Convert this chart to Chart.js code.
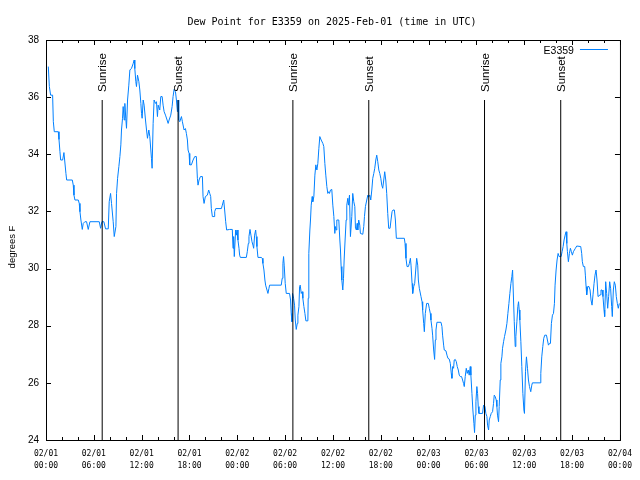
<!DOCTYPE html>
<html>
<head>
<meta charset="utf-8">
<title>Dew Point for E3359</title>
<script src="https://cdn.jsdelivr.net/npm/chart.js@4.4.1/dist/chart.umd.min.js"></script>
<style>
  html, body { margin: 0; padding: 0; background: #fff; }
</style>
</head>
<body>
<canvas id="dewpoint-chart" width="640" height="480"></canvas>
<script>
const stationName = "E3359";
const chartTitle = "Dew Point for E3359 on 2025-Feb-01 (time in UTC)";
const yAxisTitle = "degrees F";

// tick labels, one per 6 hours
const tickDates = ["02/01", "02/01", "02/01", "02/01", "02/02", "02/02", "02/02", "02/02",
                   "02/03", "02/03", "02/03", "02/03", "02/04"];
const tickTimes = ["00:00", "06:00", "12:00", "18:00", "00:00", "06:00", "12:00", "18:00",
                   "00:00", "06:00", "12:00", "18:00", "00:00"];

// hours after 02/01 00:00 UTC
const sunHours = [7.05, 16.57, 30.97, 40.49, 55.01, 64.57];
const sunLabels = ["Sunrise", "Sunset", "Sunrise", "Sunset", "Sunrise", "Sunset"];

const obsHours = [
    0.29, 0.42, 0.58, 0.83, 0.92, 1.04, 1.54, 1.63, 1.75, 1.84,
    2.09, 2.25, 2.34, 2.50, 2.59, 3.30, 3.42, 3.51, 3.63, 4.05,
    4.17, 4.26, 4.38, 4.55, 4.67, 4.88, 5.09, 5.30, 5.51, 6.68,
    6.85, 7.01, 7.26, 7.47, 7.81, 7.93, 8.10, 8.22, 8.43, 8.56,
    8.77, 8.85, 8.98, 9.14, 9.27, 9.39, 9.47, 9.60, 9.68, 9.81,
    9.89, 10.01, 10.10, 10.23, 10.39, 10.52, 10.73, 10.94, 11.06,
    11.14, 11.27, 11.35, 11.48, 11.65, 11.77, 11.90, 11.98, 12.06, 12.19,
    12.31, 12.48, 12.61, 12.73, 12.90, 13.02, 13.15, 13.23, 13.31, 13.44,
    13.56, 13.73, 13.86, 13.98, 14.07, 14.27, 14.40, 14.57, 14.69, 14.82,
    14.99, 15.19, 15.32, 15.44, 15.65, 15.82, 15.94, 16.07, 16.24, 16.36,
    16.49, 16.57, 16.65, 16.78, 16.99, 17.11, 17.32, 17.49, 17.61, 17.74,
    17.82, 17.95, 18.03, 18.24, 18.45, 18.66, 18.86, 18.99, 19.07, 19.20,
    19.37, 19.62, 19.70, 19.83, 19.99, 20.24, 20.41, 20.54, 20.66, 20.74,
    20.87, 21.08, 21.16, 21.29, 22.00, 22.12, 22.29, 22.41, 22.54, 22.66,
    23.04, 23.37, 23.46, 23.54, 23.62, 23.79, 23.88, 23.96, 24.08, 24.21,
    24.29, 24.38, 25.13, 25.25, 25.38, 25.46, 25.59, 25.71, 25.84, 25.96,
    26.05, 26.17, 26.30, 26.38, 26.46, 26.59, 27.00, 27.13, 27.21, 27.34,
    27.46, 27.55, 27.72, 27.84, 27.97, 28.05, 29.51, 29.63, 29.72, 29.80,
    29.88, 30.01, 30.14, 30.55, 30.68, 30.76, 30.85, 30.93, 31.06, 31.18,
    31.27, 31.39, 31.52, 31.60, 31.73, 31.81, 31.89, 32.02, 32.14, 32.22,
    32.35, 32.48, 32.60, 32.85, 32.89, 32.97, 33.10, 33.18, 33.27, 33.39,
    33.47, 33.60, 33.73, 33.85, 33.98, 34.10, 34.23, 34.35, 34.52, 34.73,
    34.85, 34.98, 35.10, 35.23, 35.35, 35.48, 35.56, 35.69, 35.85, 35.98,
    36.11, 36.23, 36.31, 36.40, 36.48, 36.73,
    36.86, 36.94, 37.02, 37.11, 37.23, 37.32, 37.40, 37.52, 37.65, 37.73,
    37.86, 37.94, 38.07, 38.19, 38.36, 38.48, 38.61, 38.74, 38.82, 38.94,
    39.03, 39.11, 39.23, 39.36, 39.44, 39.74, 39.86, 39.95, 40.07, 40.24,
    40.37, 40.49, 40.62, 40.74, 40.87, 40.99, 41.12, 41.24, 41.37, 41.49,
    41.62, 41.75, 41.87, 42.00, 42.12, 42.24, 42.37, 42.49, 42.62, 42.74,
    42.87, 42.99, 43.16, 43.28, 43.41, 43.53, 43.70, 43.83, 43.95, 44.95,
    45.04, 45.16, 45.29, 45.46, 45.58, 45.71, 45.79, 45.92, 46.00, 46.13,
    46.25, 46.38, 46.50, 46.63, 46.71,
    46.83, 47.04, 47.17, 47.25, 47.38, 47.46, 47.58, 47.75, 47.96, 48.08,
    48.21, 48.29, 48.42, 48.50, 48.63, 48.75, 48.84, 48.92, 49.04, 49.55,
    49.67, 49.75, 49.88, 49.96, 50.17, 50.30, 50.42, 50.59, 50.72, 50.84,
    50.92, 51.01, 51.13, 51.21, 51.34, 51.47, 51.59, 51.72, 51.84, 51.97,
    52.13, 52.26, 52.38, 52.47, 52.59, 52.72, 52.84, 52.97, 53.09, 53.22,
    53.30, 53.43, 53.55, 53.68, 53.76, 53.85, 53.93, 54.05, 54.14, 54.22,
    54.31, 54.76, 54.89, 55.06, 55.18, 55.31, 55.39, 55.52, 55.60, 55.73,
    55.85, 56.02, 56.14, 56.23, 56.35, 56.48, 56.56, 56.64, 56.77, 56.85,
    56.98, 57.06, 57.19, 57.27, 57.40, 57.52, 57.69, 57.82, 57.94, 58.07,
    58.19, 58.32, 58.44, 58.53, 58.61, 58.74, 58.86, 58.94, 59.07, 59.19,
    59.28, 59.36, 59.44, 59.57, 59.69, 59.82, 59.95,
    60.02, 60.15, 60.27, 60.40, 60.52, 60.65, 60.81, 60.94, 61.02, 61.98,
    62.07, 62.19, 62.32, 62.44, 62.57, 62.78, 62.90, 63.03, 63.16, 63.28,
    63.40, 63.53, 63.66, 63.78, 63.86, 63.99, 64.11, 64.24, 64.37, 64.62,
    64.74, 64.87, 64.99, 65.12, 65.24, 65.33, 65.41, 65.53, 65.66, 65.78,
    65.91, 66.03, 66.16, 66.28, 66.41, 66.58, 67.08, 67.20, 67.28, 67.41,
    67.58, 67.66, 67.75, 67.83, 67.96, 68.12, 68.25, 68.37, 68.50, 68.62,
    68.75, 68.87, 69.00, 69.12, 69.25, 69.37, 69.50, 69.62, 69.75, 69.87,
    70.00, 70.08, 70.21, 70.33, 70.46, 70.58, 70.71, 70.83, 70.96, 71.04,
    71.17, 71.29, 71.42, 71.54, 71.67, 71.79, 71.92
];

const dewPointF = [
    37.07, 36.37, 36.07, 36.07, 35.14, 34.79, 34.79, 34.52, 34.09, 33.80,
    33.80, 34.06, 33.80, 33.33, 33.10, 33.10, 32.92, 32.57, 32.40, 32.40,
    32.28, 31.99, 31.70, 31.37, 31.58, 31.64, 31.64, 31.37, 31.64, 31.64,
    31.41, 31.64, 31.64, 31.39, 31.39, 32.34, 32.63, 32.28, 31.64, 31.12,
    31.47, 32.63, 33.16, 33.57, 33.92, 34.33, 34.85, 35.26, 35.67, 35.20,
    35.78, 35.26, 34.91, 35.90, 36.42, 36.95, 37.01, 37.18, 37.30,
    37.00, 36.54, 36.37, 36.77, 36.54, 36.25, 35.78, 35.43, 35.26, 35.90,
    35.72, 35.20, 34.85, 34.56, 34.85, 34.62, 34.15, 33.86, 33.51, 35.08,
    35.90, 35.78, 35.84, 35.32, 35.72, 35.55, 36.02, 36.02, 35.72, 35.49,
    35.37, 35.20, 35.08, 35.20, 35.37, 35.67, 36.02, 36.27, 36.19, 35.90,
    35.49, 35.90, 35.20, 35.14, 35.32, 35.14, 34.85, 34.90, 34.73, 34.50,
    34.15, 34.03, 33.63, 33.63, 33.80, 33.92, 33.92, 33.16, 32.92, 33.10,
    33.22, 33.22, 32.52, 32.28, 32.52, 32.57, 32.75, 32.63, 32.52, 32.10,
    31.82, 31.82, 31.99, 32.10, 32.10, 32.22, 32.40, 32.05, 31.64, 31.35,
    31.37, 31.37, 30.71, 31.12, 30.42, 31.35, 31.17, 31.35, 31.00, 30.71,
    30.47, 30.39, 30.39, 30.59, 30.88, 31.12, 31.37, 31.17, 30.94, 30.82,
    30.71, 31.17, 31.35, 31.12, 30.77, 30.39, 30.39, 30.36, 30.18, 29.95,
    29.60, 29.42, 29.25, 29.13, 29.31, 29.42, 29.42, 29.66, 30.18, 30.42,
    30.12, 29.48, 29.13, 29.13, 28.90, 28.43, 28.14, 29.13, 28.96, 28.72,
    28.20, 27.87, 28.08, 28.37, 28.67, 29.37, 29.42, 29.13, 29.19, 28.96,
    28.67, 28.43, 28.17, 28.17, 28.96, 30.53, 31.35, 31.70, 32.22, 32.52,
    32.34, 32.52, 33.27, 33.63, 33.45, 33.68, 34.21, 34.62, 34.50, 34.38,
    34.27, 33.68, 33.27, 32.87, 32.63, 32.69, 32.63, 32.75, 32.77, 32.22,
    31.82, 31.23, 31.47, 31.35, 31.70, 31.70,
    31.00, 30.65, 30.07, 29.60, 29.25, 29.66, 30.30, 31.00, 31.70, 32.22,
    32.46, 32.22, 32.57, 31.12, 31.82, 32.63, 32.34, 32.17, 31.41, 31.35,
    31.58, 31.35, 31.70, 31.52, 31.23, 31.20, 31.47, 31.82, 32.17, 32.40,
    32.57, 32.51, 32.57, 32.40, 32.75, 33.16, 33.33, 33.51, 33.80, 33.97,
    33.74, 33.45, 33.33, 33.16, 32.92, 32.81, 33.10, 33.39, 33.10, 32.63,
    31.93, 31.41, 31.41, 31.70, 31.99, 32.05, 32.05, 31.70, 31.06, 31.06,
    30.88, 30.36, 30.07, 30.07, 30.18, 30.36, 30.12, 29.48, 29.13, 29.37,
    29.48, 29.95, 30.36, 30.12, 29.60,
    29.31, 29.02, 28.84, 28.55, 28.08, 27.79, 28.43, 28.78, 28.78, 28.61,
    28.43, 28.20, 27.91, 27.67, 27.15, 26.82, 27.50, 27.85, 28.12, 28.12,
    27.97, 27.67, 27.32, 27.15, 27.12, 26.97, 26.86, 26.83, 26.68, 26.33,
    26.16, 26.57, 26.51, 26.80, 26.82, 26.74, 26.57, 26.45, 26.27, 26.22,
    26.22, 26.10, 25.98, 25.87, 26.22, 26.51, 26.33, 26.45, 26.27, 26.57,
    26.27, 25.63, 25.05, 24.58, 24.26, 24.87, 25.34, 25.87, 25.63, 25.17,
    24.93, 24.93, 25.22, 25.17, 24.93, 24.82, 24.52, 24.35, 24.70, 24.82,
    24.93, 24.99, 25.28, 25.57, 25.52, 25.40, 25.17, 24.87, 24.64, 25.17,
    26.10, 26.68, 26.91, 27.21, 27.44, 27.62, 27.85, 28.08, 28.43, 28.78,
    29.13, 29.48, 29.72, 29.95, 29.25, 28.14, 27.27, 27.62, 28.14, 28.67,
    28.84, 28.55, 28.20, 27.44, 26.57, 25.63, 25.05,
    24.93, 26.39, 26.91, 26.51, 26.10, 25.87, 25.69, 25.92, 26.00, 26.00,
    26.33, 26.91, 27.27, 27.56, 27.67, 27.67, 27.50, 27.32, 27.38, 27.38,
    28.08, 28.37, 28.43, 28.78, 29.42, 29.95, 30.30, 30.53, 30.42, 30.42,
    30.59, 30.77, 31.00, 31.17, 31.29, 30.88, 30.59, 30.24, 30.53, 30.71,
    30.59, 30.47, 30.59, 30.65, 30.71, 30.79, 30.77, 30.53, 30.24, 30.07,
    30.07, 29.77, 29.37, 29.08, 29.37, 29.37, 29.25, 28.90, 28.72, 29.08,
    29.48, 29.77, 29.95, 29.60, 29.02, 29.02, 29.08, 29.25, 29.25, 29.02,
    28.55, 28.32, 29.54, 29.13, 28.61, 29.02, 29.54, 29.31, 28.67, 28.32,
    29.25, 29.54, 29.42, 29.02, 28.78, 28.61, 28.78
];

const lineColor = "rgb(0, 128, 255)";
const yMin = 24, yMax = 38, yStep = 2;
const xMax = 72, majorStep = 6, minorStep = 2;
const sunLineTop = 35.9;   // sunrise/sunset markers stop here

const dewPoints = obsHours.map((h, i) => ({ x: h, y: dewPointF[i] }));

const sunDatasets = sunHours.map((h, i) => ({
    label: sunLabels[i],
    data: [{ x: h, y: yMin }, { x: h, y: sunLineTop }],
    borderColor: "#000",
    borderWidth: 1,
    pointRadius: 0,
    order: 0
}));

// gnuplot style: full frame, inward ticks, rotated labels, key on the right
const gnuplotDecor = {
    id: "gnuplotDecor",
    afterDraw(chart) {
        const { ctx, chartArea: a } = chart;
        const x = chart.scales.x;
        const y = chart.scales.y;
        ctx.save();
        ctx.strokeStyle = "#000";
        ctx.fillStyle = "#000";
        ctx.lineWidth = 1;

        ctx.beginPath();
        for (let h = 0; h <= xMax; h += minorStep) {
            const px = Math.round(x.getPixelForValue(h)) + 0.5;
            const len = h % majorStep === 0 ? 5 : 3;
            ctx.moveTo(px, a.bottom);
            ctx.lineTo(px, a.bottom - len);
            ctx.moveTo(px, a.top);
            ctx.lineTo(px, a.top + len);
        }
        for (let v = yMin; v <= yMax; v += yStep) {
            const py = Math.round(y.getPixelForValue(v)) + 0.5;
            ctx.moveTo(a.left, py);
            ctx.lineTo(a.left + 5, py);
            ctx.moveTo(a.right, py);
            ctx.lineTo(a.right - 5, py);
        }
        ctx.stroke();
        ctx.strokeRect(a.left + 0.5, a.top + 0.5, a.width, a.height);

        // sunrise / sunset labels
        ctx.font = "11.5px 'Liberation Sans'";
        ctx.textAlign = "left";
        ctx.textBaseline = "middle";
        sunHours.forEach((h, i) => {
            const px = x.getPixelForValue(h) + 1;
            const py = y.getPixelForValue(sunLineTop) - 8;
            ctx.save();
            ctx.translate(px, py);
            ctx.rotate(-Math.PI / 2);
            ctx.fillText(sunLabels[i], 0, 0);
            ctx.restore();
        });

        // title
        ctx.font = "10px 'DejaVu Sans Mono'";
        ctx.textAlign = "center";
        ctx.textBaseline = "alphabetic";
        ctx.fillText(chartTitle, (a.left + a.right) / 2 - 1, 24.5);

        // y axis title
        ctx.save();
        ctx.font = "9.5px 'Liberation Sans'";
        ctx.translate(12, 247);
        ctx.rotate(-Math.PI / 2);
        ctx.textBaseline = "middle";
        ctx.fillText(yAxisTitle, 0, 0);
        ctx.restore();

        // key
        ctx.font = "10.5px 'Liberation Sans'";
        ctx.textAlign = "right";
        ctx.fillText(stationName, a.right - 46, 54);
        ctx.strokeStyle = lineColor;
        ctx.beginPath();
        ctx.moveTo(a.right - 40, 49.5);
        ctx.lineTo(a.right - 12, 49.5);
        ctx.stroke();

        ctx.restore();
    }
};

const ctx = document.getElementById("dewpoint-chart").getContext("2d");
new Chart(ctx, {
    type: "line",
    data: {
        datasets: [
            ...sunDatasets,
            {
                label: stationName,
                data: dewPoints,
                borderColor: lineColor,
                borderWidth: 1,
                pointRadius: 0,
                tension: 0,
                order: 1
            }
        ]
    },
    options: {
        responsive: false,
        animation: false,
        layout: { padding: { left: 0, top: 40, right: 19, bottom: 0 } },
        plugins: {
            legend: { display: false },
            tooltip: { enabled: false },
            title: { display: false }
        },
        scales: {
            x: {
                type: "linear",
                min: 0,
                max: xMax,
                afterFit(scale) { scale.height = 40; },
                grid: { display: false, drawTicks: false },
                border: { display: false },
                ticks: {
                    stepSize: majorStep,
                    autoSkip: false,
                    maxRotation: 0,
                    padding: 8,
                    color: "#000",
                    font: { family: "'DejaVu Sans Mono'", size: 8, lineHeight: 1.5 },
                    callback: function (value) {
                        const i = Math.round(value / majorStep);
                        return [tickDates[i], tickTimes[i]];
                    }
                }
            },
            y: {
                min: yMin,
                max: yMax,
                afterFit(scale) { scale.width = 46; },
                grid: { display: false, drawTicks: false },
                border: { display: false },
                ticks: {
                    stepSize: yStep,
                    padding: 7,
                    color: "#000",
                    font: { family: "'Liberation Sans'", size: 10 }
                }
            }
        }
    },
    plugins: [gnuplotDecor]
});
</script>
</body>
</html>
